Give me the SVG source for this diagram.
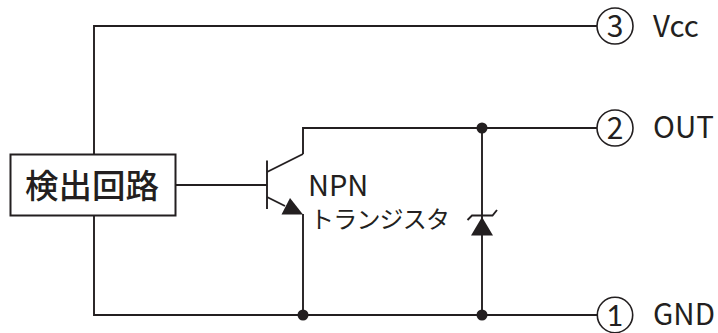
<svg xmlns="http://www.w3.org/2000/svg" width="718" height="333" viewBox="0 0 718 333">
<style>
.w{fill:none;stroke:#231f20;stroke-width:1.9}
.f{fill:#231f20;stroke:none}
.c{fill:#fff;stroke:#231f20;stroke-width:1.6}
text{font-family:"Noto Sans CJK JP","Noto Sans",sans-serif;fill:#231f20}
.l{font-size:29.500px}
.n{font-size:30px;text-anchor:middle}
</style>
<rect width="718" height="333" fill="#fff"/>
<g id="connectors">
<path class="w" d="M94 154V26H597"/>
<path class="w" d="M94 215V315H597"/>
<path class="w" d="M303 154V128H597"/>
<path class="w" d="M175.500 185H267"/>
<path class="w" d="M267 160.500V209"/>
<path class="w" d="M267 172L303 154"/>
<path class="w" d="M267 197L285 206"/>
<path class="f" d="M281.500 214.500L290 198L303 214.500Z"/>
<path class="w" d="M303 214V315"/>
<path class="w" d="M482 128V315"/>
<path class="f" d="M471 235.500H493L482 217Z"/>
<path class="w" d="M467.500 220L472 215.500H492.500L497 210"/>
<circle class="f" cx="303" cy="315" r="5.500"/>
<circle class="f" cx="482" cy="315" r="5.500"/>
<circle class="f" cx="482" cy="128" r="5.500"/>
</g>
<g id="detector">
<rect x="10.500" y="154.500" width="165" height="61" fill="#fff" stroke="#231f20" stroke-width="2"/>
<text x="25" y="198" font-size="33.500" font-weight="500">検出回路</text>
</g>
<g id="transistor-label">
<text x="308" y="196" font-size="29">NPN</text>
<text x="310" y="228" font-size="24" letter-spacing="-0.800">トランジスタ</text>
</g>
<g id="pin3">
<circle class="c" cx="615" cy="26" r="18"/>
<text class="n" x="615" y="37">3</text>
<text class="l" x="653" y="37">Vcc</text>
</g>
<g id="pin2">
<circle class="c" cx="615" cy="128" r="18"/>
<text class="n" x="615" y="138.500">2</text>
<text class="l" x="653" y="138">OUT</text>
</g>
<g id="pin1">
<circle class="c" cx="615" cy="315" r="17.700"/>
<text x="615" y="326" font-size="29" text-anchor="middle" style="font-family:Lato,sans-serif">1</text>
<text class="l" x="653" y="325">GND</text>
</g>
</svg>
